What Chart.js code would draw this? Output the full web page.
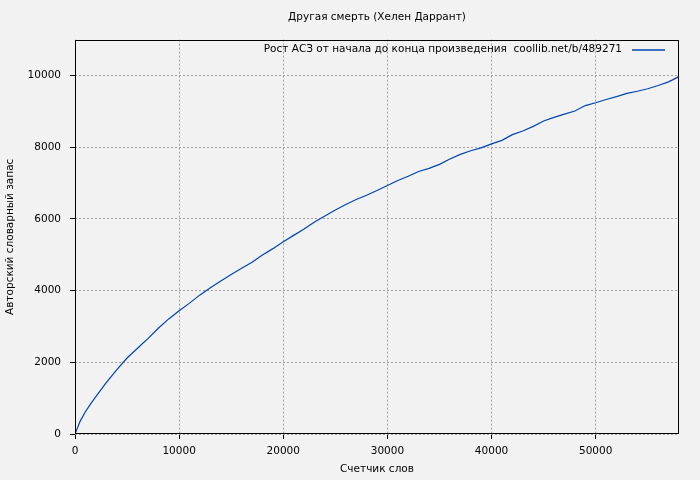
<!DOCTYPE html>
<html>
<head>
<meta charset="utf-8">
<script src="https://cdn.jsdelivr.net/npm/chart.js@4"></script>
<style>
  html, body { margin: 0; padding: 0; background: #f2f2f2; }
  #wrap { width: 700px; height: 480px; }
</style>
</head>
<body>
<div id="wrap"><canvas id="line-chart" width="700" height="480"></canvas></div>
<script>
// word counter (x) and author's vocabulary (y)
const words = [0, 500, 1000, 1500, 2000, 3000, 4000, 5000, 6000, 7000, 8000, 9000,
  10000, 11000, 12000, 13000, 14000, 15000, 16000, 17000, 18000, 19000, 20000,
  21000, 22000, 23000, 24000, 25000, 26000, 27000, 28000, 29000, 30000, 31000,
  32000, 33000, 34000, 35000, 36000, 37000, 38000, 39000, 40000, 41000, 42000,
  43000, 44000, 45000, 46000, 47000, 48000, 49000, 50000, 51000, 52000, 53000,
  54000, 55000, 56000, 57000, 57950];
const vocab = [0, 360, 620, 840, 1040, 1430, 1790, 2120, 2390, 2660, 2950, 3210,
  3440, 3650, 3880, 4080, 4270, 4450, 4620, 4790, 4990, 5170, 5360,
  5540, 5720, 5910, 6080, 6250, 6400, 6540, 6660, 6790, 6930, 7070,
  7190, 7320, 7410, 7520, 7670, 7800, 7900, 7980, 8090, 8190, 8350,
  8450, 8580, 8730, 8830, 8920, 9010, 9160, 9240, 9330, 9410, 9500,
  9560, 9630, 9720, 9820, 9960];
const xTicks = [0, 10000, 20000, 30000, 40000, 50000];
const yTicks = [0, 2000, 4000, 6000, 8000, 10000];

const chartTitle = "Другая смерть (Хелен Даррант)";
const seriesLabel = "Рост АСЗ от начала до конца произведения  coollib.net/b/489271";
const xTitle = "Счетчик слов";
const yTitle = "Авторский словарный запас";

const font = "'DejaVu Sans', sans-serif";
const fontSize = 10.5;
const lineColor = "#0044b0";

// plot frame plus gnuplot-style key in the top right corner
const frame = {
  id: "frame",
  afterDatasetsDraw(chart) {
    const a = chart.chartArea, ctx = chart.ctx;
    ctx.save();
    ctx.strokeStyle = "#000";
    ctx.lineWidth = 1;
    ctx.strokeRect(Math.round(a.left) + 0.5, Math.round(a.top) + 0.5,
      Math.round(a.right - a.left) - 1, Math.round(a.bottom - a.top) - 1);

    const ds = chart.data.datasets[0];
    const ky = Math.round(a.top) + 10;
    const kx = Math.round(a.right);
    ctx.fillStyle = "#000";
    ctx.font = fontSize + "px " + font;
    ctx.textAlign = "right";
    ctx.textBaseline = "middle";
    ctx.fillText(ds.label, kx - 57, ky - 0.5);
    ctx.strokeStyle = ds.borderColor;
    ctx.lineWidth = 1.3;
    ctx.beginPath();
    ctx.moveTo(kx - 47, ky);
    ctx.lineTo(kx - 14, ky);
    ctx.stroke();
    ctx.restore();
  }
};

var config = {
  type: "scatter",
  data: {
    datasets: [
      {
        label: seriesLabel,
        data: words.map((w, i) => ({ x: w, y: vocab[i] })),
        showLine: true,
        borderColor: lineColor,
        backgroundColor: lineColor,
        borderWidth: 1.2,
        pointRadius: 0,
        tension: 0,
      },
    ],
  },
  options: {
    responsive: false,
    animation: false,
    layout: { padding: { left: 0, right: 21, top: 0, bottom: 0 } },
    plugins: {
      title: {
        display: true,
        text: chartTitle,
        fullSize: false,
        color: "#000",
        font: { family: font, size: fontSize, weight: "normal" },
        padding: { top: 11, bottom: 16 },
      },
      legend: { display: false },
      tooltip: { enabled: false },
    },
    scales: {
      x: {
        type: "linear",
        min: 0,
        max: 58000,
        afterBuildTicks: (s) => { s.ticks = xTicks.map((v) => ({ value: v })); },
        afterFit: (s) => { s.height = 46; },
        ticks: {
          color: "#000", font: { family: font, size: fontSize }, padding: 6, maxRotation: 0,
          callback: (v) => String(v),
        },
        grid: { color: "#a0a0a0", tickColor: "#000", tickLength: 5 },
        border: { display: false, dash: [2, 2] },
        title: {
          display: true,
          text: xTitle,
          color: "#000",
          font: { family: font, size: fontSize },
          padding: { top: 0, bottom: 4 },
        },
      },
      y: {
        type: "linear",
        min: 0,
        max: 11000,
        afterBuildTicks: (s) => { s.ticks = yTicks.map((v) => ({ value: v })); },
        afterFit: (s) => { s.width = 75; },
        ticks: {
          color: "#000", font: { family: font, size: fontSize }, padding: 9,
          callback: (v) => String(v),
        },
        grid: { color: "#a0a0a0", tickColor: "#000", tickLength: 5 },
        border: { display: false, dash: [2, 2] },
        title: {
          display: true,
          text: yTitle,
          color: "#000",
          font: { family: font, size: fontSize },
          padding: { top: 4, bottom: 0 },
        },
      },
    },
  },
  plugins: [frame],
};

var ctx = document.getElementById("line-chart").getContext("2d");
window.myLine = new Chart(ctx, config);
</script>
</body>
</html>
